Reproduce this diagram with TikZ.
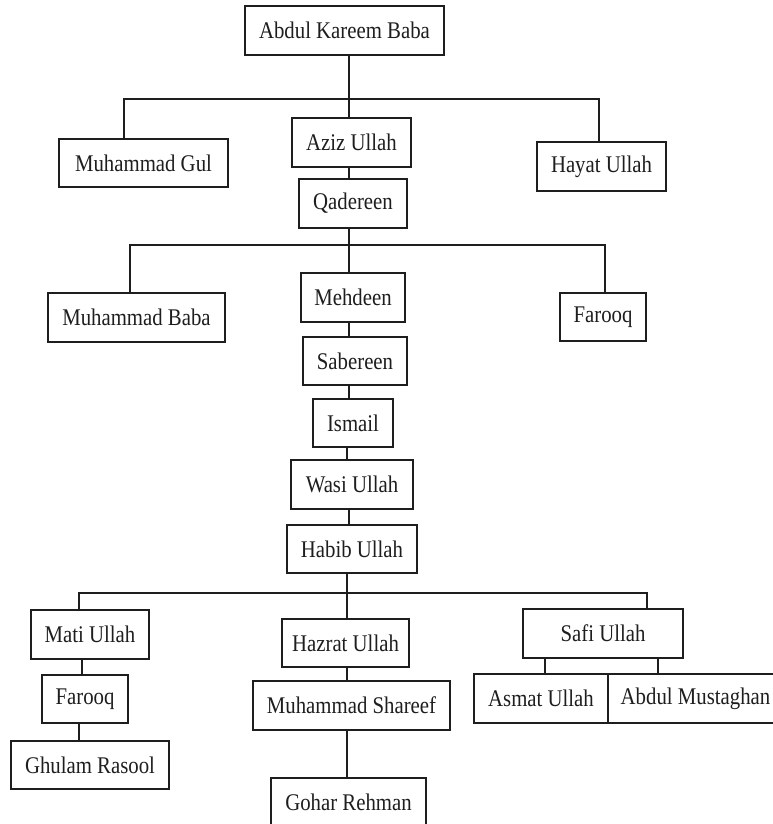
\documentclass[tikz,border=0pt]{standalone}
\usepackage{fontspec}
\setmainfont{Liberation Serif}[FakeStretch=0.87]
\usepackage{xcolor}
\definecolor{ink}{HTML}{1E1E1E}

\begin{document}
\begin{tikzpicture}[x=0.02cm, y=-0.02cm,
  person/.style={draw=ink, line width=1pt, minimum height=0.97cm, inner sep=2pt,
                 font=\fontsize{13.6}{16}\selectfont, text=ink},
  link/.style={draw=ink, line width=0.9pt}
]
\clip (0,0) rectangle (773,824);
\fill[white] (0,0) rectangle (773,824);

% generation 1
\node[person, minimum width=3.98cm] (akb)    at (344.5,30.5) {Abdul Kareem Baba};
\node[person, minimum width=3.38cm] (mgul)   at (143.5,163)  {Muhammad Gul};
\node[person, minimum width=2.38cm] (aziz)   at (351.5,142.5) {Aziz Ullah};
\node[person, minimum width=2.58cm] (hayat)  at (601.5,166.5) {Hayat Ullah};
\node[person, minimum width=2.16cm] (qad)    at (353,203.5)  {Qadereen};

% generation 2
\node[person, minimum width=3.54cm] (mbaba)  at (136.5,317.5) {Muhammad Baba};
\node[person, minimum width=2.08cm] (mehd)   at (353,297.5)  {Mehdeen};
\node[person, minimum width=1.72cm] (farooqa) at (603,317)   {Farooq};
\node[person, minimum width=2.08cm] (sab)    at (355,361)    {Sabereen};
\node[person, minimum width=1.60cm] (ismail) at (353,423)    {Ismail};
\node[person, minimum width=2.44cm] (wasi)   at (352,484.5)  {Wasi Ullah};
\node[person, minimum width=2.60cm] (habib)  at (352,549)    {Habib Ullah};

% generation 3
\node[person, minimum width=2.36cm] (mati)   at (90,634.5)   {Mati Ullah};
\node[person, minimum width=2.54cm] (hazrat) at (345.5,643)  {Hazrat Ullah};
\node[person, minimum width=3.20cm] (safi)   at (603,633.5)  {Safi Ullah};
\node[person, minimum width=1.72cm] (farooqb) at (85,699)    {Farooq};
\node[person, minimum width=3.16cm] (ghulam) at (90,765)     {Ghulam Rasool};
\node[person, minimum width=3.94cm] (shareef) at (351.5,705.5) {Muhammad Shareef};
\node[person, minimum width=3.10cm] (gohar)  at (348.5,802)  {Gohar Rehman};
\node[person, minimum width=2.68cm] (asmat)  at (541,698.5)  {Asmat Ullah};
\node[person, minimum width=3.50cm] (mustaghan) at (695.5,698.5) {Abdul Mustaghan};

% bus lines
\coordinate (bus1l) at (124,99);  \coordinate (bus1) at (349,99);  \coordinate (bus1r) at (599,99);
\coordinate (bus2l) at (130,245); \coordinate (bus2) at (349,245); \coordinate (bus2r) at (605,245);
\coordinate (bus3l) at (79,593);  \coordinate (bus3) at (347,593); \coordinate (bus3r) at (647,593);
\coordinate (matiline) at (82,667);
\coordinate (safil) at (545,667); \coordinate (safir) at (658,667);

\draw[link] (akb.south -| bus1) -- (bus1);
\draw[link] (mgul.north -| bus1l) -- (bus1l) -- (bus1r) -- (hayat.north -| bus1r);
\draw[link] (bus1) -- (aziz.north -| bus1);
\draw[link] (aziz.south -| bus1) -- (qad.north -| bus1);

\draw[link] (qad.south -| bus2) -- (bus2);
\draw[link] (mbaba.north -| bus2l) -- (bus2l) -- (bus2r) -- (farooqa.north -| bus2r);
\draw[link] (bus2) -- (mehd.north -| bus2);
\draw[link] (mehd.south -| bus2) -- (sab.north -| bus2);
\draw[link] (sab.south -| bus2) -- (ismail.north -| bus2);
\draw[link] (ismail.south -| bus3) -- (wasi.north -| bus3);
\draw[link] (wasi.south -| bus2) -- (habib.north -| bus2);

\draw[link] (habib.south -| bus3) -- (bus3);
\draw[link] (mati.north -| bus3l) -- (bus3l) -- (bus3r) -- (safi.north -| bus3r);
\draw[link] (bus3) -- (hazrat.north -| bus3);
\draw[link] (mati.south -| matiline) -- (farooqb.north -| matiline);
\draw[link] (farooqb.south -| bus3l) -- (ghulam.north -| bus3l);
\draw[link] (hazrat.south -| bus3) -- (shareef.north -| bus3);
\draw[link] (shareef.south -| bus3) -- (gohar.north -| bus3);
\draw[link] (safi.south -| safil) -- (asmat.north -| safil);
\draw[link] (safi.south -| safir) -- (mustaghan.north -| safir);
\end{tikzpicture}
\end{document}
